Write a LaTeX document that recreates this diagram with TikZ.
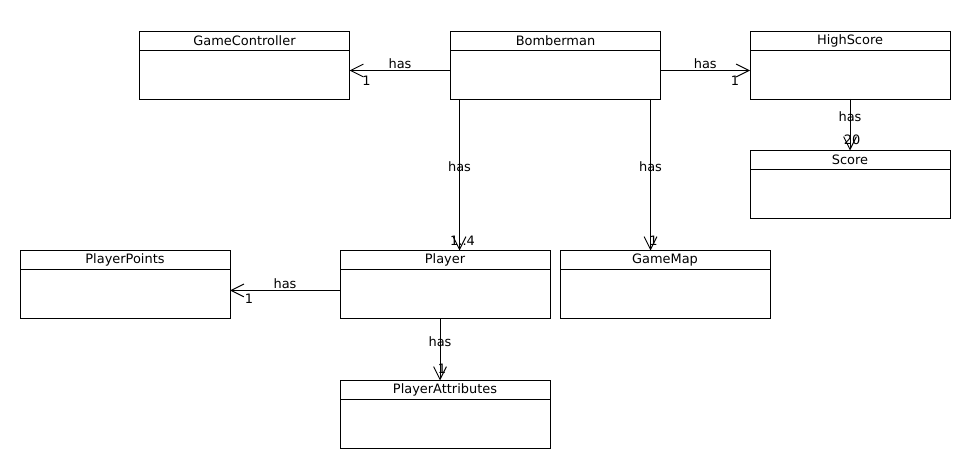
\documentclass[tikz,border=0pt]{standalone}
\usepackage{fontspec}
\setmainfont{DejaVu Sans}
\usetikzlibrary{arrows.meta, positioning}

\begin{document}
\begin{tikzpicture}[
                x=0.25mm, y=-0.25mm,
                line width=0.7pt,
                head/.style={draw, rectangle, outer sep=0pt, inner sep=0pt, minimum width=52.5mm, minimum height=4.75mm, font=\fontsize{9.2}{11}\selectfont},
                body/.style={draw, rectangle, outer sep=0pt, minimum width=52.5mm, minimum height=12.25mm},
                lbl/.style={inner sep=1pt, font=\fontsize{9.2}{11}\selectfont},
                >={Straight Barb[length=3.2mm, width=3.2mm]}
            ]
                \useasboundingbox (0,0) rectangle (980,470);

                % Classes
                \node[head] (ctrlh) at (244.5,40.5) {GameController};
                \node[body, below=0pt of ctrlh] (ctrl) {};
                \node[head] (bmh) at (555.5,40.5) {Bomberman};
                \node[body, below=0pt of bmh] (bm) {};
                \node[head, minimum width=50mm] (hsh) at (850,40.5) {HighScore};
                \node[body, minimum width=50mm, below=0pt of hsh] (hs) {};
                \node[head, minimum width=50mm] (sch) at (850,160) {Score};
                \node[body, minimum width=50mm, below=0pt of sch] (sc) {};
                \node[head] (pph) at (125,260) {PlayerPoints};
                \node[body, below=0pt of pph] (pp) {};
                \node[head] (plh) at (445,260) {Player};
                \node[body, below=0pt of plh] (pl) {};
                \node[head] (gmh) at (665,260) {GameMap};
                \node[body, below=0pt of gmh] (gm) {};
                \node[head] (pah) at (445,390) {PlayerAttributes};
                \node[body, below=0pt of pah] (pa) {};

                % Start points
                \coordinate (bmw) at ([yshift=1mm]bm.west);
                \coordinate (bme) at ([yshift=1mm]bm.east);
                \coordinate (bmpl) at ([xshift=2.25mm]bm.south west);
                \coordinate (bmgm) at ([xshift=-2.5mm]bm.south east);
                \coordinate (plw) at ([yshift=0.9mm]pl.west);
                \coordinate (plpa) at ([xshift=-1.25mm]pl.south);

                % Connections
                \draw[->] (bmw) -- (bmw -| ctrl.east) node[lbl, midway, above] {has}
                    node[lbl, at end, xshift=4.25mm, yshift=-2.5mm] {1};
                \draw[->] (bme) -- (bme -| hs.west) node[lbl, midway, above] {has}
                    node[lbl, at end, xshift=-3.75mm, yshift=-2.5mm] {1};
                \draw[->] (hs.south) -- (sch.north) node[lbl, pos=0.35] {has}
                    node[lbl, at end, xshift=0.5mm, yshift=2.6mm] {20};
                \draw[->] (bmpl) -- (bmpl |- plh.north) node[lbl, pos=0.45] {has}
                    node[lbl, at end, xshift=0.75mm, yshift=2.5mm] {1..4};
                \draw[->] (bmgm) -- (bmgm |- gmh.north) node[lbl, pos=0.45] {has}
                    node[lbl, at end, xshift=0.75mm, yshift=2.5mm] {1};
                \draw[->] (plw) -- (plw -| pp.east) node[lbl, midway, above] {has}
                    node[lbl, at end, xshift=4.75mm, yshift=-2.2mm] {1};
                \draw[->] (plpa) -- (plpa |- pah.north) node[lbl, pos=0.38] {has}
                    node[lbl, at end, xshift=0.5mm, yshift=3mm] {1};

            \end{tikzpicture}
\end{document}
